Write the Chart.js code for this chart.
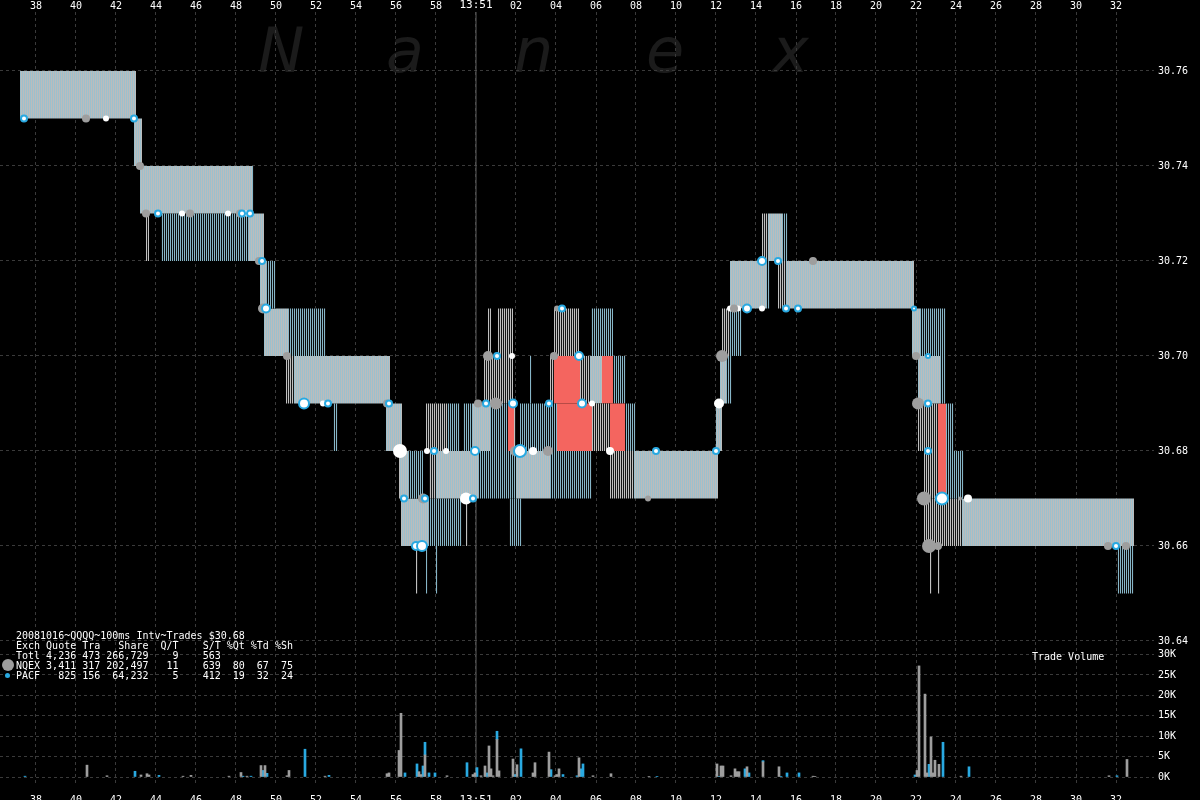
<!DOCTYPE html>
<html><head><meta charset="utf-8">
<script src="https://cdn.jsdelivr.net/npm/chart.js@4.4.1/dist/chart.umd.min.js"></script>
<style>
html,body{margin:0;padding:0;background:#000;width:1200px;height:800px;overflow:hidden}
#wrap{position:relative;width:1200px;height:800px}
canvas{position:absolute;left:0;top:0}
.wm{position:absolute;top:20px;font:italic 62px 'DejaVu Sans';color:#1b1b1b;line-height:62px}
#stats{position:absolute;left:16px;top:631px;font:10px/10px 'DejaVu Sans Mono';color:#fff;white-space:pre;margin:0}
#tv{position:absolute;left:1032px;top:652px;font:10px/10px 'DejaVu Sans Mono';color:#fff;white-space:pre}
.lg{position:absolute;border-radius:50%}
</style></head>
<body><div id="wrap">
<span class="wm" style="left:258px">N</span>
<span class="wm" style="left:386px">a</span>
<span class="wm" style="left:514px">n</span>
<span class="wm" style="left:646px">e</span>
<span class="wm" style="left:772px">x</span>
<canvas id="price" width="1200" height="800"></canvas>
<canvas id="vol" width="1200" height="800"></canvas>
<pre id="stats">20081016~QQQQ~100ms Intv~Trades $30.68
Exch Quote Tra   Share  Q/T    S/T %Qt %Td %Sh
Totl 4,236 473 266,729    9    563
NQEX 3,411 317 202,497   11    639  80  67  75
PACF   825 156  64,232    5    412  19  32  24</pre>
<div class="lg" style="left:2px;top:659px;width:12px;height:12px;background:#9e9e9e"></div>
<div class="lg" style="left:5px;top:673px;width:5px;height:5px;background:#29a9e1"></div>
<div id="tv">Trade Volume</div>
</div>
<script>
// ---- axis ticks (time = seconds after 13:50:00) ----
const timeTicks = [38,40,42,44,46,48,50,52,54,56,58,60,62,64,66,68,70,72,74,76,78,80,82,84,86,88,90,92];
const timeTickLabels = ['38','40','42','44','46','48','50','52','54','56','58','13:51','02','04','06','08','10','12','14','16','18','20','22','24','26','28','30','32'];
const priceTicks = [30.64,30.66,30.68,30.70,30.72,30.74,30.76];
const volumeTicks = [0,5000,10000,15000,20000,25000,30000];

// ---- quote spread segments (start, end, bid, ask, kind) ----
// kind: S = both quotes, B = PACF quote, G = NQEX quote, R = crossed/locked
const segStart = [37.2,42.9,43.2,48.8,43.5,44.25,48.65,49.2,49.5,49.4,50.6,50.5,50.9,52.85,55.5,56.15,56.6,57.65,58.0,60.1,62.0,63.7,66.7,67.9,56.25,57.6,59.5,61.65,57.0,57.5,58.0,57.5,58.55,59.35,59.85,60.7,61.6,61.9,62.2,64.05,65.8,66.7,67.45,60.4,62.7,63.7,63.9,65.2,65.7,66.3,66.85,60.6,61.1,63.9,65.75,72.0,72.2,72.5,72.3,72.7,72.7,74.5,75.1,75.5,74.3,74.6,75.3,81.8,82.2,82.1,83.2,82.1,83.1,83.5,82.4,83.1,83.5,82.4,84.3,82.7,83.1,92.05];
const segEnd   = [43.0,43.3,48.8,48.9,43.65,48.65,49.4,49.5,50.0,50.6,52.5,50.9,55.7,53.1,56.3,56.6,57.35,58.0,60.1,62.0,63.7,65.8,67.9,72.1,57.6,59.3,59.6,62.3,57.1,57.6,58.1,58.55,59.2,59.85,60.7,61.6,61.9,62.0,64.05,65.8,66.7,67.45,68.0,61.85,62.8,63.9,65.2,65.7,66.3,66.85,67.5,60.75,61.85,65.15,66.85,72.3,72.5,72.8,72.7,73.3,74.5,74.7,75.5,81.9,74.6,75.3,75.6,82.2,83.5,83.2,83.5,83.1,83.5,83.9,83.1,83.5,84.4,84.3,92.9,82.8,83.2,92.9];
const segBid   = [30.75,30.74,30.73,30.73,30.72,30.72,30.72,30.71,30.71,30.70,30.70,30.69,30.69,30.68,30.68,30.67,30.67,30.67,30.67,30.67,30.67,30.67,30.67,30.67,30.66,30.66,30.66,30.66,30.65,30.65,30.65,30.68,30.68,30.68,30.68,30.68,30.68,30.68,30.68,30.68,30.68,30.68,30.68,30.69,30.69,30.69,30.69,30.69,30.69,30.69,30.69,30.70,30.70,30.70,30.70,30.68,30.69,30.69,30.70,30.70,30.71,30.71,30.71,30.71,30.72,30.72,30.72,30.70,30.70,30.69,30.69,30.68,30.68,30.68,30.67,30.67,30.67,30.66,30.66,30.65,30.65,30.65];
const segAsk   = [30.76,30.75,30.74,30.74,30.73,30.73,30.73,30.72,30.72,30.71,30.71,30.70,30.70,30.69,30.69,30.68,30.68,30.68,30.68,30.68,30.68,30.68,30.68,30.68,30.67,30.67,30.67,30.67,30.66,30.66,30.66,30.69,30.69,30.69,30.69,30.69,30.69,30.69,30.69,30.69,30.69,30.69,30.69,30.70,30.70,30.70,30.70,30.70,30.70,30.70,30.70,30.71,30.71,30.71,30.71,30.69,30.70,30.70,30.71,30.71,30.72,30.72,30.72,30.72,30.73,30.73,30.73,30.71,30.71,30.70,30.70,30.69,30.69,30.69,30.68,30.68,30.68,30.67,30.67,30.66,30.66,30.66];
const segKind  = ['S','S','S','B','G','B','S','S','B','S','B','G','S','B','S','S','B','G','S','B','S','B','G','S','S','B','G','B','G','B','B','G','B','B','S','B','R','G','B','R','G','R','B','G','B','G','R','G','S','R','B','G','G','G','B','S','S','B','G','B','S','B','G','S','G','S','B','S','B','S','B','G','R','B','G','R','B','G','S','G','G','B'];

// ---- trades ----
const nqexTradeTime  = [40.5,43.2,43.5,45.7,48.2,49.15,49.35,50.55,55.55,57.35,60.1,60.6,61.0,61.95,63.6,63.9,64.05,68.6,72.3,72.9,76.85,82.0,82.1,82.4,82.65,83.1,84.2,91.6,92.5];
const nqexTradePrice = [30.75,30.74,30.73,30.73,30.73,30.72,30.71,30.70,30.69,30.67,30.69,30.70,30.69,30.68,30.68,30.70,30.71,30.67,30.70,30.71,30.72,30.70,30.69,30.67,30.66,30.66,30.67,30.66,30.66];
const nqexTradeSize  = [4,4,4,4,4,4,5,4,4,5,4,5,6,5,5,4,3,3,6,4,4,4,6,7,7,4,2,4,4];
const pacfTradeTime  = [37.4,42.9,44.1,48.3,48.7,49.3,49.5,51.4,52.6,55.65,56.4,57.0,57.3,57.45,57.9,59.85,59.95,60.5,61.05,61.85,62.2,63.65,64.3,65.15,65.3,69.0,72.0,73.55,74.3,75.1,75.5,76.1,81.9,82.6,82.6,82.6,83.3,92.0];
const pacfTradePrice = [30.75,30.75,30.73,30.73,30.73,30.72,30.71,30.69,30.69,30.69,30.67,30.66,30.66,30.67,30.68,30.67,30.68,30.69,30.70,30.69,30.68,30.69,30.71,30.70,30.69,30.68,30.68,30.71,30.72,30.72,30.71,30.71,30.71,30.70,30.69,30.68,30.67,30.66];
const pacfTradeSize  = [3,3,3,3,3,3,4,5,3,3,3,4,5,3,3,3,4,3,3,4,6,3,3,4,4,3,3,4,4,3,3,3,2,2,3,3,6,3];
const otherTradeTime  = [41.5,45.3,47.6,48.5,52.35,56.2,57.55,58.5,59.5,61.8,62.85,65.8,66.7,72.15,72.7,73.1,74.3,84.6];
const otherTradePrice = [30.75,30.73,30.73,30.73,30.69,30.68,30.68,30.68,30.67,30.70,30.68,30.69,30.68,30.69,30.71,30.71,30.71,30.67];
const otherTradeSize  = [3,3,3,3,3,7,3,3,6,3,4,3,4,5,3,3,3,4];

// ---- trade volume per 100ms bin (bin start time, shares) ----
const nqexVolTime = [40.5,41.5,43.2,43.5,43.6,45.3,45.7,47.6,48.2,48.5,49.2,49.4,50.5,50.6,52.4,55.5,55.6,56.1,56.2,57.1,57.2,57.4,58.5,59.8,59.9,60.2,60.4,60.6,60.7,60.8,61.0,61.1,61.8,62.0,62.8,62.9,63.6,63.9,64.0,64.1,65.1,65.8,66.7,68.6,72.0,72.2,72.3,72.7,72.9,73.0,73.1,73.5,74.3,75.1,76.8,76.9,82.0,82.1,82.4,82.5,82.7,82.8,82.9,83.1,84.2,91.6,92.5];
const nqexVol     = [2900,300,500,800,500,200,400,200,1100,200,2800,2800,300,1600,200,800,1000,6500,15600,1300,600,5400,300,600,1000,300,2700,7600,2000,300,9200,1500,4400,3000,1000,3500,6100,300,600,2000,4700,300,800,100,3200,2700,2700,300,2000,1300,1300,2500,3700,2500,200,100,1600,27200,20300,1000,9800,1000,4100,3100,200,300,4300];
const pacfVolTime = [37.4,42.9,44.1,48.3,48.7,49.3,49.5,51.4,52.6,56.4,57.0,57.3,57.4,57.6,57.9,59.5,60.0,60.5,61.0,61.9,62.2,63.7,64.3,65.0,65.2,65.3,69.0,72.1,73.4,73.6,74.3,75.2,75.5,76.1,81.9,82.6,83.3,84.6,92.0];
const pacfVol     = [200,1400,400,200,200,1600,900,6800,400,1000,3200,2700,3100,1000,1000,3500,2300,1000,2000,600,6900,1800,600,300,2000,3200,100,100,2000,1000,300,100,1000,1000,500,3100,8500,2500,300];

// ---- view ranges ----
const timeMin = 36.2, timeMax = 93.9;
const priceMin = 30.610105, priceMax = 30.772421;
const volMax = 31100;

// ---- styling ----
const BLUE = '#9cc0cd', GRAY = '#bcbcbc', HBLUE = '#86b6c8', HGRAY = '#c0c0c0', RED = '#f4655f';
const NQEX_C = '#9e9e9e', PACF_C = '#29a9e1';
const GRID = '#3a3a3a';
Chart.defaults.font.family = "'DejaVu Sans Mono', monospace";
Chart.defaults.font.size = 10;
Chart.defaults.color = '#ffffff';

const ctxP = document.getElementById('price').getContext('2d');
function stripe(c1, c2) {
  const p = document.createElement('canvas'); p.width = 2; p.height = 1;
  const g = p.getContext('2d');
  g.fillStyle = c1; g.fillRect(0, 0, 1, 1);
  if (c2) { g.fillStyle = c2; g.fillRect(1, 0, 1, 1); }
  return ctxP.createPattern(p, 'repeat');
}
const fills = { S: stripe(BLUE, GRAY), B: stripe(HBLUE, '#0c0c0c'), G: stripe(HGRAY, '#161616'), R: RED };

const segDatasets = segStart.map((s, i) => ({
  type: 'line',
  data: [{x: s, y: segAsk[i]}, {x: segEnd[i], y: segAsk[i]}],
  fill: {value: segBid[i]},
  backgroundColor: fills[segKind[i]],
  borderColor: 'rgba(0,0,0,0)', borderWidth: 0,
  pointRadius: 0, tension: 0
}));

function tradeSet(label, times, prices, sizes, bg, border, bw) {
  return {
    label, type: 'line', showLine: false,
    data: times.map((t, i) => ({x: t, y: prices[i]})),
    pointRadius: sizes.slice(), pointHoverRadius: sizes.slice(),
    pointBackgroundColor: bg, pointBorderColor: border, pointBorderWidth: bw,
    fill: false
  };
}

const minuteLine = {
  type: 'line', data: [{x: 60, y: priceMin}, {x: 60, y: priceMax}],
  borderColor: '#5e5e5e', borderWidth: 1, pointRadius: 0, fill: false
};

const xTickFont = ctx => ({family: "'DejaVu Sans Mono', monospace", size: (ctx.tick && ctx.tick.value === 60) ? 11 : 10});

// Chart.js paints dataset 0 last, so trades go first and the minute line last.
new Chart(ctxP, {
  type: 'line',
  data: { datasets: [
    tradeSet('PACF', pacfTradeTime, pacfTradePrice, pacfTradeSize, '#ffffff', PACF_C, 2),
    tradeSet('NQEX', nqexTradeTime, nqexTradePrice, nqexTradeSize, NQEX_C, NQEX_C, 0),
    tradeSet('other', otherTradeTime, otherTradePrice, otherTradeSize, '#ffffff', '#ffffff', 0),
    ...segDatasets,
    minuteLine
  ]},
  options: {
    responsive: false, animation: false, events: [],
    layout: { autoPadding: false, padding: { left: 0, right: 0, top: 0, bottom: 17 } },
    plugins: { legend: {display: false}, tooltip: {enabled: false} },
    scales: {
      x: {
        type: 'linear', position: 'top', min: timeMin, max: timeMax,
        afterBuildTicks: ax => { ax.ticks = timeTicks.map(v => ({value: v})); },
        afterFit: ax => { ax.height = 12; },
        ticks: { color: '#fff', padding: 0, maxRotation: 0, autoSkip: false, font: xTickFont,
                 callback: (v, i) => timeTickLabels[i] },
        grid: { color: GRID, drawTicks: false, lineWidth: 1 },
        border: { display: false, dash: [3, 3] }
      },
      y: {
        type: 'linear', position: 'right', min: priceMin, max: priceMax,
        afterBuildTicks: ax => { ax.ticks = priceTicks.map(v => ({value: v})); },
        afterFit: ax => { ax.width = 46; },
        ticks: { color: '#fff', padding: 4, callback: v => v.toFixed(2) },
        grid: { color: GRID, drawTicks: false },
        border: { display: false, dash: [3, 3] }
      }
    }
  }
});

new Chart(document.getElementById('vol').getContext('2d'), {
  type: 'bar',
  data: { datasets: [
    { label: 'NQEX', data: nqexVolTime.map((t, i) => ({x: t + 0.05, y: nqexVol[i]})), backgroundColor: NQEX_C, barThickness: 2, borderWidth: 0 },
    { label: 'PACF', data: pacfVolTime.map((t, i) => ({x: t + 0.05, y: pacfVol[i]})), backgroundColor: PACF_C, barThickness: 2, borderWidth: 0 }
  ]},
  options: {
    responsive: false, animation: false, events: [],
    layout: { autoPadding: false, padding: { left: 0, right: 0, top: 650, bottom: 0 } },
    plugins: { legend: {display: false}, tooltip: {enabled: false} },
    scales: {
      x: {
        type: 'linear', position: 'bottom', min: timeMin, max: timeMax, offset: false, stacked: true,
        afterBuildTicks: ax => { ax.ticks = timeTicks.map(v => ({value: v})); },
        afterFit: ax => { ax.height = 23; },
        ticks: { color: '#fff', padding: 9, maxRotation: 0, autoSkip: false, font: xTickFont,
                 callback: (v, i) => timeTickLabels[i] },
        grid: { display: false, offset: false },
        border: { display: false }
      },
      y: {
        type: 'linear', position: 'right', min: 0, max: volMax, stacked: true,
        afterBuildTicks: ax => { ax.ticks = volumeTicks.map(v => ({value: v})); },
        afterFit: ax => { ax.width = 46; },
        ticks: { color: '#fff', padding: 4, callback: v => (v / 1000) + 'K' },
        grid: { color: GRID, drawTicks: false },
        border: { display: false, dash: [3, 3] }
      }
    }
  }
});
</script>
</body></html>
